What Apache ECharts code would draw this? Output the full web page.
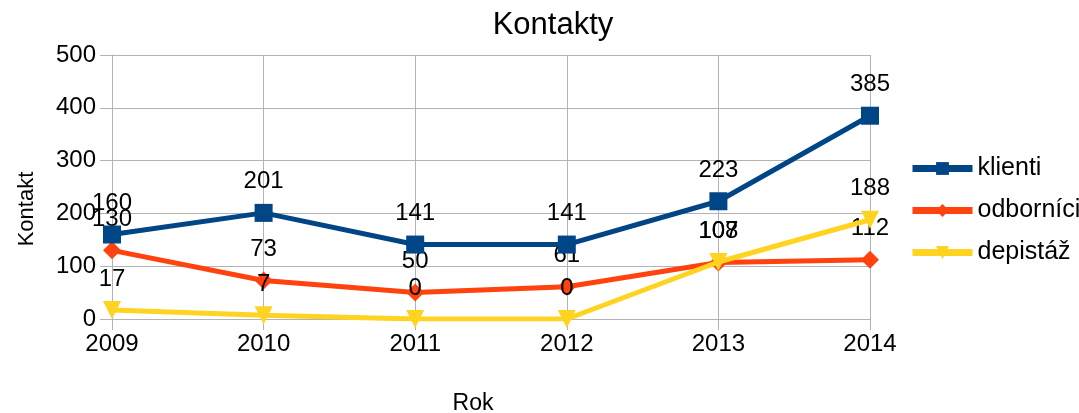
<!DOCTYPE html>
<html>
<head>
<meta charset="utf-8">
<script src="https://cdn.jsdelivr.net/npm/echarts@6/dist/echarts.min.js"></script>
<style>
  html, body { margin: 0; padding: 0; background: #fff; }
  #chart { width: 1079px; height: 413px; }
</style>
</head>
<body>
<div id="chart"></div>
<script>
const years = ['2009', '2010', '2011', '2012', '2013', '2014']
const klienti = [160, 201, 141, 141, 223, 385]
const odbornici = [130, 73, 50, 61, 107, 112]
const depistaz = [17, 7, 0, 0, 108, 188]

const font = 'Liberation Sans'
const myChart = echarts.init(document.getElementById('chart'))

// společný styl popisků nad body
const label = {
  show: true,
  position: 'top',
  distance: 10,
  color: '#000',
  fontFamily: font,
  fontSize: 24
}

const option = {
  animation: false,
  title: {
    text: 'Kontakty',
    left: 548,
    textAlign: 'center',
    top: 5,
    textStyle: { fontFamily: font, fontSize: 31, fontWeight: 'normal', color: '#000' }
  },
  legend: {
    orient: 'vertical',
    left: 904,
    top: 151,
    itemWidth: 60,
    itemHeight: 16,
    itemGap: 17,
    lineStyle: { width: 7 },
    textStyle: { fontFamily: font, fontSize: 25, color: '#000' },
    data: ['klienti', 'odborníci', 'depistáž']
  },
  grid: { left: 112, right: 209, top: 55, bottom: 94, containLabel: false, outerBoundsMode: 'none' },
  xAxis: {
    type: 'category',
    data: years,
    boundaryGap: false,
    name: 'Rok',
    nameLocation: 'middle',
    nameGap: 73,
    nameTextStyle: { fontFamily: font, fontSize: 23, color: '#000', padding: [0, 36, 0, 0] },
    axisLine: { lineStyle: { color: '#b3b3b3' } },
    axisTick: { show: true, length: 11, alignWithLabel: true, lineStyle: { color: '#b3b3b3' } },
    axisLabel: { fontFamily: font, fontSize: 24, color: '#000', margin: 13 },
    splitLine: { show: true, lineStyle: { color: '#b3b3b3' } }
  },
  yAxis: {
    type: 'value',
    min: 0,
    max: 500,
    interval: 100,
    name: 'Kontakt',
    nameLocation: 'middle',
    nameGap: 74,
    nameTextStyle: { fontFamily: font, fontSize: 22, color: '#000', padding: [0, 44, 0, 0] },
    axisLine: { show: true, lineStyle: { color: '#b3b3b3' } },
    axisTick: { show: true, length: 12, lineStyle: { color: '#b3b3b3' } },
    axisLabel: { fontFamily: font, fontSize: 24, color: '#000', margin: 16 },
    splitLine: { show: true, lineStyle: { color: '#b3b3b3' } }
  },
  series: [
    {
      name: 'klienti',
      type: 'line',
      data: klienti,
      symbol: 'rect',
      symbolSize: 18,
      lineStyle: { width: 5, color: '#004586' },
      itemStyle: { color: '#004586' },
      label: label,
      z: 3
    },
    {
      name: 'odborníci',
      type: 'line',
      data: odbornici,
      symbol: 'diamond',
      symbolSize: 18,
      lineStyle: { width: 5, color: '#ff420e' },
      itemStyle: { color: '#ff420e' },
      label: label,
      z: 2
    },
    {
      name: 'depistáž',
      type: 'line',
      data: depistaz,
      symbol: 'triangle',
      symbolRotate: 180,
      symbolSize: 18,
      lineStyle: { width: 5, color: '#ffd320' },
      itemStyle: { color: '#ffd320' },
      label: label,
      z: 4
    }
  ]
}

myChart.setOption(option)
</script>
</body>
</html>
